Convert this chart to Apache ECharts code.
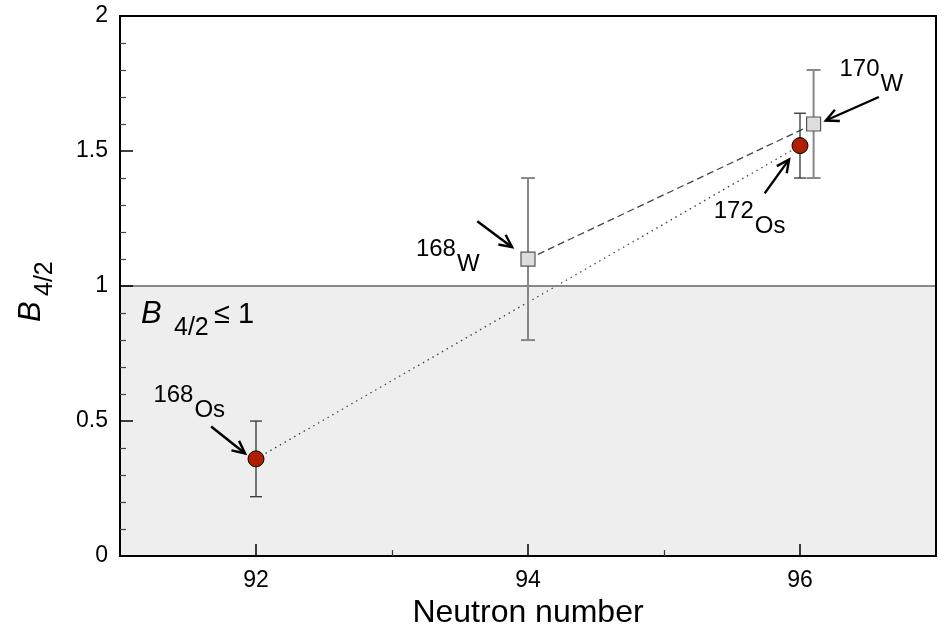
<!DOCTYPE html>
<html>
<head>
<meta charset="utf-8">
<script src="https://cdn.jsdelivr.net/npm/echarts@6/dist/echarts.min.js"></script>
<style>
  html, body { margin: 0; padding: 0; background: #fff; }
  #chart { width: 947px; height: 634px; }
</style>
</head>
<body>
<div id="chart"></div>
<script>
// Os isotopes: neutron number, B(4/2), error bar low / high
const osN = [92, 96];
const osB = [0.36, 1.52];
const osLo = [0.22, 1.40];
const osHi = [0.50, 1.64];

// W isotopes
const wN = [94, 96.1];
const wB = [1.10, 1.60];
const wLo = [0.80, 1.40];
const wHi = [1.40, 1.80];

const xMajor = [92, 94, 96];
const xMinor = [93, 95];
const threshold = 1;

const FONT = '"Liberation Sans", Arial, Helvetica, sans-serif';

// labels of the nuclei (anchor + arrow in data units)
const notes = [
  { mass: '168', el: 'Os', at: [91.54, 0.594], from: [91.67, 0.48], to: [91.92, 0.38] },
  { mass: '168', el: 'W',  at: [93.47, 1.137], from: [93.627, 1.24], to: [93.883, 1.144] },
  { mass: '170', el: 'W',  at: [96.585, 1.804], from: [96.58, 1.70], to: [96.19, 1.613] },
  { mass: '172', el: 'Os', at: [95.66, 1.277], from: [95.74, 1.343], to: [95.92, 1.469] }
];

const chart = echarts.init(document.getElementById('chart'));

function errorBars(n, lo, hi, color, width, cap) {
  return {
    type: 'custom',
    silent: true,
    z: 3,
    data: n.map((x, i) => [x, lo[i], hi[i]]),
    renderItem: (params, api) => {
      const top = api.coord([api.value(0), api.value(2)]);
      const bot = api.coord([api.value(0), api.value(1)]);
      const style = { stroke: color, lineWidth: width };
      return {
        type: 'group',
        children: [
          { type: 'line', shape: { x1: top[0], y1: top[1], x2: bot[0], y2: bot[1] }, style },
          { type: 'line', shape: { x1: top[0] - cap, y1: top[1], x2: top[0] + cap, y2: top[1] }, style },
          { type: 'line', shape: { x1: bot[0] - cap, y1: bot[1], x2: bot[0] + cap, y2: bot[1] }, style }
        ]
      };
    }
  };
}

function renderNote(params, api) {
  const d = notes[params.dataIndex];
  const p = api.coord(d.at);
  const a = api.coord(d.from);
  const b = api.coord(d.to);
  const ang = Math.atan2(b[1] - a[1], b[0] - a[0]);
  const hl = 14, spread = 0.45;
  const h1 = [b[0] - hl * Math.cos(ang - spread), b[1] - hl * Math.sin(ang - spread)];
  const h2 = [b[0] - hl * Math.cos(ang + spread), b[1] - hl * Math.sin(ang + spread)];
  const st = { stroke: '#000', lineWidth: 2.4, fill: null };
  return {
    type: 'group',
    children: [
      { type: 'text', style: { text: d.mass, x: p[0], y: p[1], align: 'right', verticalAlign: 'middle', font: '24px ' + FONT, fill: '#000' } },
      { type: 'text', style: { text: d.el, x: p[0] + 1, y: p[1] + 15, align: 'left', verticalAlign: 'middle', font: '24px ' + FONT, fill: '#000' } },
      { type: 'line', shape: { x1: a[0], y1: a[1], x2: b[0], y2: b[1] }, style: st },
      { type: 'polyline', shape: { points: [h1, b, h2] }, style: st }
    ]
  };
}

const option = {
  animation: false,
  grid: {
    left: 120, right: 11, top: 16, bottom: 76,
    show: true, borderColor: '#000', borderWidth: 2, z: 10
  },
  xAxis: [
    {
      type: 'value', min: 91, max: 97, z: 10,
      name: 'Neutron number', nameLocation: 'middle', nameGap: 39,
      nameTextStyle: { fontFamily: FONT, fontSize: 32, color: '#000' },
      axisLine: { lineStyle: { color: '#000', width: 2 } },
      axisTick: { inside: true, length: 12, customValues: xMajor, lineStyle: { color: '#000', width: 1.5 } },
      axisLabel: { customValues: xMajor, margin: 13, fontFamily: FONT, fontSize: 23, color: '#000' },
      splitLine: { show: false }
    },
    {
      type: 'value', min: 91, max: 97, position: 'bottom', z: 10,
      axisLine: { show: false },
      axisTick: { inside: true, length: 6, customValues: xMinor, lineStyle: { color: '#333', width: 1.2 } },
      axisLabel: { show: false },
      splitLine: { show: false }
    }
  ],
  yAxis: {
    type: 'value', min: 0, max: 2, interval: 0.5, z: 10,
    axisLine: { show: true, lineStyle: { color: '#000', width: 2 } },
    axisTick: { show: true, inside: true, length: 13, lineStyle: { color: '#000', width: 1.5 } },
    minorTick: { show: true, splitNumber: 5, length: 6, lineStyle: { color: '#444', width: 1.2 } },
    axisLabel: { margin: 12, fontFamily: FONT, fontSize: 23, color: '#000' },
    splitLine: { show: false }
  },
  graphic: [
    { type: 'text', x: 141, y: 299, z: 20, style: { text: 'B', font: 'italic 31px ' + FONT, fill: '#000' } },
    { type: 'text', x: 174, y: 316, z: 20, style: { text: '4/2', font: '25px ' + FONT, fill: '#000' } },
    { type: 'text', x: 214, y: 300, z: 20, style: { text: '\u2264 1', font: '29px ' + FONT, fill: '#000' } },
    {
      type: 'group', x: 31, y: 322, rotation: Math.PI / 2, z: 20,
      children: [
        { type: 'text', x: 0, y: 0, style: { text: 'B', font: 'italic 31px ' + FONT, fill: '#000', verticalAlign: 'middle' } },
        { type: 'text', x: 26, y: 14, style: { text: '4/2', font: '25px ' + FONT, fill: '#000', verticalAlign: 'middle' } }
      ]
    }
  ],
  series: [
    {
      // shaded region below threshold + threshold line
      type: 'line', data: [], z: 1, silent: true,
      markArea: {
        silent: true,
        itemStyle: { color: '#eeeeee' },
        data: [[{ yAxis: 0 }, { yAxis: threshold }]]
      },
      markLine: {
        silent: true, symbol: 'none', label: { show: false },
        lineStyle: { color: '#888', width: 2, type: 'solid' },
        data: [{ yAxis: threshold }]
      }
    },
    {
      type: 'line', z: 2, silent: true, showSymbol: false,
      data: osN.map((n, i) => [n, osB[i]]),
      lineStyle: { color: '#444', width: 1.3, type: [1.5, 4] }
    },
    {
      type: 'line', z: 2, silent: true, showSymbol: false,
      data: wN.map((n, i) => [n, wB[i]]),
      lineStyle: { color: '#444', width: 1.3, type: [7, 4] }
    },
    errorBars(wN, wLo, wHi, '#888', 2, 7),
    errorBars(osN, osLo, osHi, '#333', 1.3, 6),
    {
      type: 'scatter', z: 4, silent: true,
      symbol: 'rect', symbolSize: 14,
      data: wN.map((n, i) => [n, wB[i]]),
      itemStyle: { color: '#dddddd', borderColor: '#555', borderWidth: 1.2, opacity: 1 }
    },
    {
      type: 'scatter', z: 4, silent: true,
      symbol: 'circle', symbolSize: 16,
      data: osN.map((n, i) => [n, osB[i]]),
      itemStyle: { color: '#b01e00', borderColor: '#000', borderWidth: 1, opacity: 1 }
    },
    {
      type: 'custom', z: 5, silent: true,
      data: notes.map(d => d.at),
      renderItem: renderNote
    }
  ]
};

chart.setOption(option);
window.addEventListener('resize', () => chart.resize());
</script>
</body>
</html>
